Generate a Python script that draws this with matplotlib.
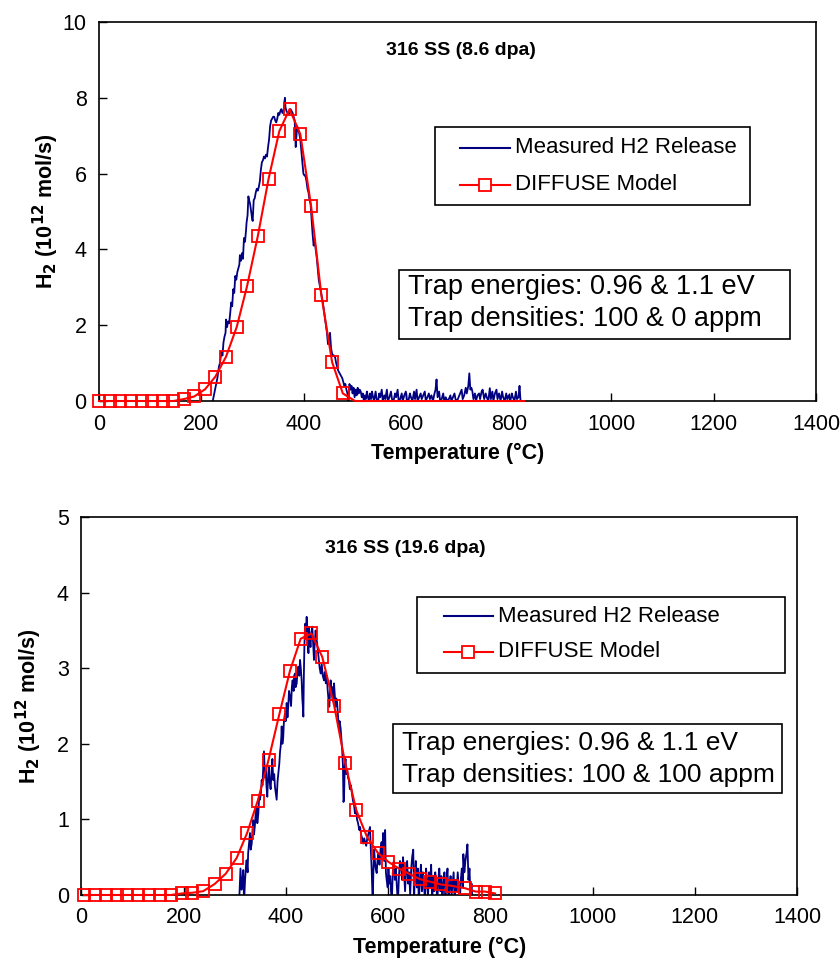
import matplotlib
matplotlib.use("Agg")
import matplotlib.pyplot as plt
from matplotlib.patches import Rectangle

plt.rcParams['font.family'] = ['Liberation Sans', 'DejaVu Sans']

# ---------------- data: top panel (8.6 dpa) ----------------
top_title = "316 SS (8.6 dpa)"
top_model_T = [0, 21, 41, 62, 83, 103, 124, 145, 165, 186, 207, 227, 248, 269, 289, 310,
               331, 352, 372, 393, 414, 434, 455, 476, 500, 830]
top_model_H = [0, 0, 0, 0, 0, 0, 0, 0, 0.05, 0.12, 0.31, 0.64, 1.17, 1.96, 3.03, 4.35,
               5.86, 7.12, 7.70, 7.04, 5.15, 2.80, 1.03, 0.20, 0.0, 0.0]
top_model_marked = 24  # number of points carrying markers

top_meas_T = [219, 222, 225, 228, 231, 234, 236, 239, 241, 243, 245, 247, 248, 250, 252, 254,
              256, 258, 260, 262, 264, 266, 268, 270, 272, 274, 275, 277, 279, 281, 283, 285,
              287, 288, 290, 291.6, 293, 295, 297, 299, 300, 302, 304, 306, 308, 310, 312, 314,
              316, 318, 320, 322, 324, 326, 328, 330, 332, 334, 336, 338, 340, 342, 344, 346,
              348, 350, 352, 354, 356, 358, 360, 362, 363, 364, 366, 368, 370, 372, 374, 376,
              378, 380, 382, 384, 386, 387, 389, 391, 393, 395, 397, 399, 401, 403, 405, 407,
              409, 411, 413, 415, 417, 419, 421, 423, 425, 427, 429, 431, 433, 435, 437, 439,
              441, 443, 445, 447, 449, 451, 453, 455, 457, 459, 461, 463, 465, 467, 469, 471,
              473, 475, 477, 479, 481, 483, 485, 487, 489, 491, 493, 495, 497, 499,
              501, 503, 505, 507, 509, 511, 513, 515, 517, 519, 521, 523, 525, 527, 529, 531,
              533, 535, 537, 540, 542, 545, 547, 549, 552, 554, 557, 559, 562, 564, 567, 570,
              572, 575, 578, 580, 583, 585, 588, 591, 593, 596, 599, 601, 604, 607, 609, 612,
              615, 617, 620, 622, 625, 628, 630, 633, 636, 638, 641, 644, 646, 649, 652, 655,
              657, 659, 661, 664, 666, 669, 672, 674, 677, 680, 683, 686, 688, 691, 694, 696,
              699, 702, 705, 708, 710, 713, 716, 718, 721, 723, 725, 727, 729, 731, 734, 736,
              739, 742, 744, 747, 749, 752, 755, 757, 760, 763, 765, 768, 770, 773, 776, 778,
              781, 784, 787, 789, 792, 795, 797, 800, 803, 806, 808, 811, 814, 816, 819, 821, 823]
top_meas_H = [-0.3, 0.0, 0.2, 0.4, 0.6, 0.9, 1.0, 1.3, 1.2, 1.55, 1.7, 1.8, 2.15, 1.95, 2.1, 2.05,
              2.3, 2.6, 2.5, 2.95, 2.85, 3.3, 3.2, 3.4, 3.5, 3.6, 3.85, 3.7, 3.9, 3.75, 4.3, 4.2,
              4.5, 4.7, 4.9, 5.4, 5.3, 5.2, 5.0, 4.8, 4.75, 5.3, 5.35, 5.5, 5.6, 5.55, 5.65, 5.8,
              6.1, 6.3, 6.35, 6.45, 6.4, 6.5, 6.45, 6.7, 6.9, 7.25, 7.4, 7.45, 7.5, 7.5, 7.4, 7.35,
              7.45, 7.6, 7.55, 7.65, 7.7, 7.6, 7.6, 7.9, 8.0, 7.75, 7.65, 7.6, 7.55, 7.6, 7.7, 7.65,
              7.6, 7.5, 7.4, 6.7, 7.1, 7.25, 7.15, 7.05, 6.9, 6.6, 6.3, 6.0, 5.95, 5.95, 5.8, 5.6,
              5.5, 5.3, 5.2, 4.8, 4.4, 4.1, 4.25, 4.0, 3.8, 3.5, 3.2, 3.05, 2.9, 2.75, 2.6, 2.4,
              2.2, 2.0, 1.8, 1.5, 1.65, 1.8, 1.4, 1.25, 1.2, 1.2, 1.15, 1.0, 0.9, 0.8, 0.75, 0.7,
              0.65, 0.6, 0.5, 0.4, 0.45, 0.3, 0.2, -0.1, 0.45, 0.3, 0.4, 0.2, 0.35, 0.1,
              0.3, 0.15, 0.35, 0.2, 0.3, 0.25, 0.1, 0.2, 0.0, 0.15, 0.05, 0.25, 0.1, 0.0, 0.2, 0.05,
              0.25, 0.1, 0.0, 0.25, 0.05, 0.0, 0.2, 0.1, 0.3, 0.0, 0.15, 0.05, 0.3, 0.0, 0.1, 0.25,
              0.05, 0.0, 0.2, 0.1, 0.3, 0.0, 0.05, 0.2, 0.0, 0.15, 0.25, 0.05, 0.0, 0.2, 0.1, 0.0,
              0.25, 0.05, 0.3, 0.0, 0.1, 0.2, 0.05, 0.15, 0.25, 0.0, 0.1, 0.2, 0.05, 0.15, 0.0, 0.2,
              0.3, 0.57, 0.1, 0.25, 0.0, 0.05, 0.2, 0.0, 0.1, 0.0, 0.05, 0.15, 0.0, 0.1, 0.2, 0.05,
              0.0, 0.1, 0.2, 0.3, 0.05, 0.15, 0.35, 0.2, 0.4, 0.73, 0.3, 0.35, 0.25, 0.05, 0.2, 0.0,
              0.15, 0.2, 0.05, 0.25, 0.3, 0.05, 0.2, 0.1, 0.0, 0.34, 0.05, 0.25, 0.0, 0.2, 0.3, 0.05,
              0.2, 0.0, 0.25, 0.1, 0.0, 0.2, 0.05, 0.15, 0.0, 0.2, 0.1, 0.0, 0.25, 0.05, 0.1, 0.4, 0.0]
top_trap_lines = ["Trap energies: 0.96 & 1.1 eV", "Trap densities: 100 & 0 appm"]

# ---------------- data: bottom panel (19.6 dpa) ----------------
bot_title = "316 SS (19.6 dpa)"
bot_model_T = [5, 26, 48, 69, 90, 111, 132, 153, 175, 196, 217, 238, 260.5, 282, 303.6, 324,
               345, 366, 387, 408, 428.8, 449.6, 471, 494.5, 516, 537.6, 558.5, 579.4, 600, 621,
               641, 661.6, 681.7, 702.6, 725, 750, 771, 789, 809]
bot_model_H = [0, 0, 0, 0, 0, 0, 0, 0, 0, 0.02, 0.03, 0.05, 0.145, 0.28, 0.49, 0.82,
               1.25, 1.79, 2.39, 2.97, 3.39, 3.46, 3.15, 2.50, 1.74, 1.12, 0.77, 0.56, 0.44, 0.35,
               0.28, 0.21, 0.176, 0.14, 0.12, 0.09, 0.045, 0.045, 0.02]

bot_meas_T = [305, 309, 311, 313, 315, 316.5, 318, 320, 322, 323, 325, 326, 328, 329.6, 331, 333,
              334.5, 336, 337.5, 339, 341, 342.7, 344, 346, 347.5, 349, 351, 352.5, 354, 355.6, 357, 359,
              360.5, 362, 363.5, 365, 366.5, 368, 370, 372, 373.5, 375, 377, 378.5, 380, 381.8, 383.5, 385,
              387, 388.5, 389.6, 391, 391.6, 393, 394.7, 396, 398, 399.5, 401.4, 403, 404.5, 406, 408, 410,
              411.5, 413, 415, 416, 417.6, 419, 421, 422.5, 424, 426, 427.5, 429, 430.7, 432, 433, 434,
              435, 436, 437, 437.8, 439, 440.5, 441.5, 442.5, 444, 445, 446.5, 448, 449.5, 451.5, 453, 454.8,
              456, 458, 459.5, 461, 463, 464.6, 466, 468, 470, 472, 474.4, 476, 478, 480, 481.6, 483,
              484.8, 486, 487.4, 489, 491, 492.5, 494, 495.5, 497, 498.5, 500, 501.5, 503.7, 505, 507, 508.5,
              510, 511.5, 512.5, 513.5, 515, 516.5, 518, 520, 521.5, 523, 525, 527, 529, 531, 533, 535,
              537, 539, 541, 543.5, 545, 547, 549, 551, 553, 555, 557, 559, 561, 562.5, 564.4, 566,
              567.7, 569.6, 571, 572.5, 574, 575.5, 577.5, 579, 581, 583, 585, 587, 588.5, 590, 592, 594,
              595.5, 597, 599, 600.5, 602, 604, 605.5, 607, 609, 611, 613, 615, 617, 619, 621, 623,
              625, 627, 629, 631, 633, 635, 637, 639, 641, 643, 645, 647, 649, 650.5, 652, 654,
              656, 658, 660, 662, 664, 666, 668, 670, 672, 674, 676, 678, 680, 682, 684, 686,
              688, 690, 692, 694, 696, 698, 700, 702, 704, 706, 708, 710, 712, 714, 716, 718,
              720, 722, 724, 726, 728, 730, 732, 734, 736, 738, 740, 742, 744, 746, 747, 749,
              751, 753.5, 755, 757, 759, 761, 763, 765]
bot_meas_H = [-0.3, 0.0, 0.35, 0.07, 0.2, 0.33, -0.1, 0.2, 0.4, 0.46, 0.3, 0.55, 0.7, 0.82, 0.6, 0.68,
              0.85, 0.99, 0.8, 0.9, 1.1, 1.17, 0.95, 1.08, 1.3, 1.26, 1.35, 1.52, 1.45, 1.70, 1.9, 1.56,
              1.65, 1.43, 1.3, 1.56, 1.7, 1.5, 1.4, 1.65, 1.8, 1.52, 1.6, 1.43, 1.35, 1.26, 1.5, 1.6,
              1.74, 1.9, 1.96, 2.1, 2.23, 2.0, 2.09, 2.3, 2.40, 2.3, 2.54, 2.35, 2.5, 2.7, 2.62, 2.5,
              2.75, 2.84, 2.7, 2.9, 2.93, 2.75, 2.80, 2.95, 3.02, 2.9, 3.11, 3.0, 2.84, 2.6, 2.5, 2.36,
              2.9, 3.28, 3.5, 3.59, 3.4, 3.68, 3.5, 3.37, 3.2, 3.55, 3.4, 3.28, 3.45, 3.55, 3.35, 3.11,
              3.3, 3.50, 3.4, 3.33, 3.2, 3.11, 3.0, 2.93, 3.05, 2.9, 2.84, 2.95, 2.8, 2.9, 2.71, 2.6,
              2.49, 2.65, 2.84, 2.7, 2.75, 2.6, 2.80, 2.65, 2.49, 2.6, 2.55, 2.4, 2.18, 2.3, 2.2, 2.05,
              1.92, 1.7, 1.23, 1.26, 1.7, 1.8, 1.6, 1.65, 1.55, 1.52, 1.4, 1.45, 1.35, 1.25, 1.2, 1.08,
              1.15, 1.0, 0.95, 0.86, 0.9, 0.8, 0.75, 0.68, 0.75, 0.7, 0.65, 0.75, 0.8, 0.85, 0.9, 0.6,
              0.33, -0.1, 0.3, 0.6, 0.45, 0.35, 0.29, 0.45, 0.55, 0.4, 0.6, 0.7, 0.5, 0.82, 0.45, 0.86,
              0.3, 0.2, 0.1, 0.35, 0.15, 0.25, 0.05, -0.1, 0.3, 0.45, 0.2, 0.35, 0.1, -0.1, 0.25, 0.45,
              0.4, 0.2, 0.5, 0.3, 0.05, 0.35, 0.45, 0.15, 0.3, 0.0, 0.35, 0.51, 0.6, -0.1, 0.25, 0.45,
              0.1, 0.35, -0.1, 0.2, 0.4, 0.05, 0.3, 0.15, -0.1, 0.35, 0.2, 0.0, 0.3, 0.1, 0.4, -0.1,
              0.25, 0.05, 0.3, 0.15, -0.1, 0.2, 0.35, 0.05, 0.25, -0.1, 0.15, 0.3, 0.0, 0.2, 0.35, -0.1,
              0.1, 0.25, 0.0, 0.15, 0.3, -0.1, 0.2, 0.05, 0.3, 0.1, -0.1, 0.2, 0.35, 0.1, 0.54, 0.3,
              0.45, 0.57, 0.67, 0.2, 0.35, 0.0, 0.15, -0.1]
bot_trap_lines = ["Trap energies: 0.96 & 1.1 eV", "Trap densities: 100 & 100 appm"]

x_ticks = [0, 200, 400, 600, 800, 1000, 1200, 1400]
top_y_ticks = [0, 2, 4, 6, 8, 10]
bot_y_ticks = [0, 1, 2, 3, 4, 5]

legend_labels = ["Measured H2 Release", "DIFFUSE Model"]
xlabel = "Temperature (°C)"
ylabel = r"H$_\mathbf{2}$ (10$^\mathbf{12}$ mol/s)"

BLUE = "#000080"
RED = "#FF0000"

fig = plt.figure(figsize=(8.40, 9.64), dpi=100)
ax1 = fig.add_axes([0.1179, 0.584, 0.8536, 0.3932])
ax2 = fig.add_axes([0.097, 0.0716, 0.852, 0.392])


def style(ax, yticks, ymax, ylabelpad):
    ax.set_xlim(0, 1400)
    ax.set_ylim(0, ymax)
    ax.set_xticks(x_ticks)
    ax.set_yticks(yticks)
    ax.tick_params(direction='in', length=6, width=1.0, labelsize=15.5, pad=9)
    for s in ax.spines.values():
        s.set_linewidth(1.2)
        s.set_color('black')
    ax.set_xlabel(xlabel, fontsize=15.5, fontweight='bold', labelpad=6)
    ax.set_ylabel(ylabel, fontsize=15.5, fontweight='bold', labelpad=ylabelpad)


def legend_box(ax, rect, y_rows, hx0, hx1, tx, fs):
    ax.add_patch(Rectangle((rect[0], rect[1]), rect[2], rect[3], transform=ax.transAxes,
                           facecolor='white', edgecolor='black', lw=1.2, zorder=5))
    ax.plot([hx0, hx1], [y_rows[0], y_rows[0]], color=BLUE, lw=1.5, transform=ax.transAxes,
            zorder=6, clip_on=False)
    ax.plot([hx0, hx1], [y_rows[1], y_rows[1]], color=RED, lw=1.5, transform=ax.transAxes,
            zorder=6, clip_on=False)
    ax.plot([(hx0 + hx1) / 2], [y_rows[1]], marker='s', ms=8, mfc='white', mec=RED, mew=1.3,
            transform=ax.transAxes, zorder=7, clip_on=False)
    for lab, y in zip(legend_labels, y_rows):
        ax.text(tx, y, lab, transform=ax.transAxes, fontsize=fs, va='center', ha='left', zorder=7)


def trap_box(ax, rect, tx, y_rows, lines, fs):
    ax.add_patch(Rectangle((rect[0], rect[1]), rect[2], rect[3], transform=ax.transAxes,
                           facecolor='white', edgecolor='black', lw=1.2, zorder=5))
    for line, y in zip(lines, y_rows):
        ax.text(tx, y, line, transform=ax.transAxes, fontsize=fs, va='center', ha='left', zorder=7)


# ---- top panel ----
ax1.plot(top_meas_T, top_meas_H, color=BLUE, lw=1.3, zorder=2)
ax1.plot(top_model_T, top_model_H, color=RED, lw=1.5, marker='s', ms=8, mfc='none', mec=RED,
         mew=1.3, markevery=list(range(top_model_marked)), zorder=3, clip_on=False)
style(ax1, top_y_ticks, 10, 1)
ax1.text(0.505, 0.926, top_title, transform=ax1.transAxes, fontsize=14, fontweight='bold',
         ha='center', va='center')
legend_box(ax1, (0.468, 0.518, 0.44, 0.206), (0.668, 0.570), 0.504, 0.573, 0.580, 16)
trap_box(ax1, (0.4184, 0.1636, 0.5456, 0.182), 0.431, (0.3016, 0.2172), top_trap_lines, 19.5)

# ---- bottom panel ----
ax2.plot(bot_meas_T, bot_meas_H, color=BLUE, lw=1.3, zorder=2)
ax2.plot(bot_model_T, bot_model_H, color=RED, lw=1.5, marker='s', ms=8, mfc='none', mec=RED,
         mew=1.3, zorder=3, clip_on=False)
style(ax2, bot_y_ticks, 5, 9.5)
ax2.text(0.452, 0.918, bot_title, transform=ax2.transAxes, fontsize=14, fontweight='bold',
         ha='center', va='center')
legend_box(ax2, (0.469, 0.587, 0.514, 0.201), (0.738, 0.643), 0.5065, 0.575, 0.582, 16)
trap_box(ax2, (0.435, 0.27, 0.544, 0.182), 0.4479, (0.402, 0.317), bot_trap_lines, 19)

fig.savefig("out.png", dpi=100)
